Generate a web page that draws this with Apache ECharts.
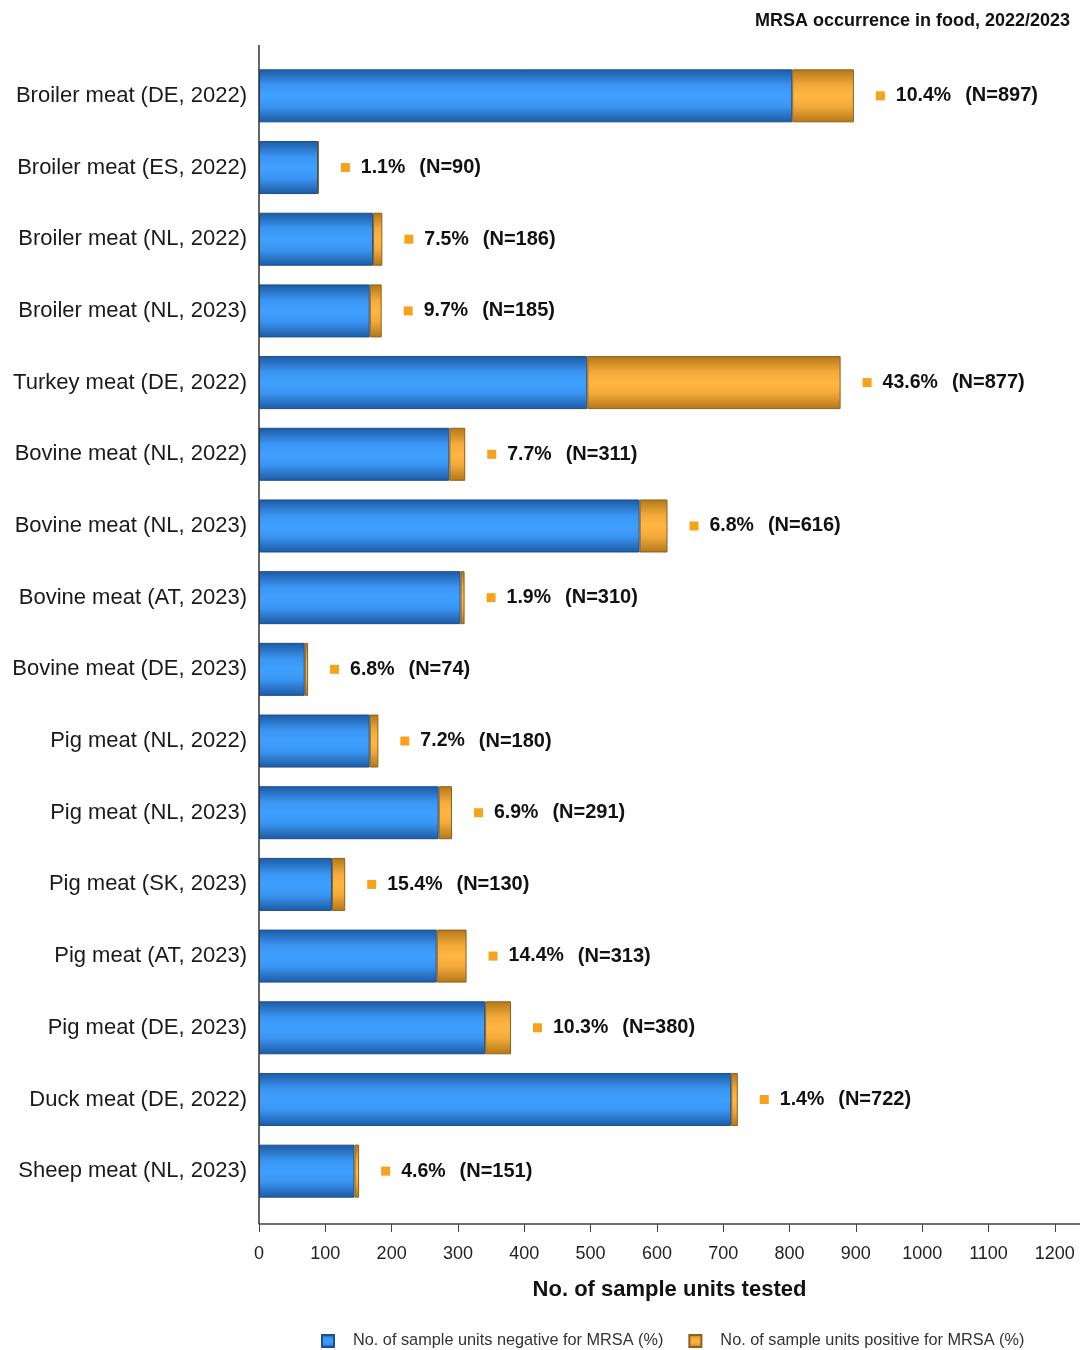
<!DOCTYPE html>
<html>
<head>
<meta charset="utf-8">
<script src="https://cdn.jsdelivr.net/npm/echarts@6/dist/echarts.min.js"></script>
<style>
html,body{margin:0;padding:0;background:#fff;}
#chart{width:1080px;height:1350px;}
</style>
</head>
<body>
<div id="chart"></div>
<script>
const categories = [
  'Broiler meat (DE, 2022)', 'Broiler meat (ES, 2022)', 'Broiler meat (NL, 2022)', 'Broiler meat (NL, 2023)',
  'Turkey meat (DE, 2022)', 'Bovine meat (NL, 2022)', 'Bovine meat (NL, 2023)', 'Bovine meat (AT, 2023)',
  'Bovine meat (DE, 2023)', 'Pig meat (NL, 2022)', 'Pig meat (NL, 2023)', 'Pig meat (SK, 2023)',
  'Pig meat (AT, 2023)', 'Pig meat (DE, 2023)', 'Duck meat (DE, 2022)', 'Sheep meat (NL, 2023)'
];
const totalN   = [897, 90, 186, 185, 877, 311, 616, 310, 74, 180, 291, 130, 313, 380, 722, 151];
const positive = [93, 1, 14, 18, 382, 24, 42, 6, 5, 13, 20, 20, 45, 39, 10, 7];
const negative = [804, 89, 172, 167, 495, 287, 574, 304, 69, 167, 271, 110, 268, 341, 712, 144];
const pctLabels = ['10.4%', '1.1%', '7.5%', '9.7%', '43.6%', '7.7%', '6.8%', '1.9%', '6.8%', '7.2%', '6.9%', '15.4%', '14.4%', '10.3%', '1.4%', '4.6%'];
const xTicks = [0, 100, 200, 300, 400, 500, 600, 700, 800, 900, 1000, 1100, 1200];

const FONT = 'Arial, "Liberation Sans", sans-serif';
const blueGrad = new echarts.graphic.LinearGradient(0, 0, 0, 1, [
  {offset: 0, color: '#1c5aa3'}, {offset: 0.3, color: '#3a95f2'},
  {offset: 0.5, color: '#40a0ff'}, {offset: 0.7, color: '#3a95f2'}, {offset: 1, color: '#1c5aa3'}
]);
const orangeGrad = new echarts.graphic.LinearGradient(0, 0, 0, 1, [
  {offset: 0, color: '#b37718'}, {offset: 0.3, color: '#f3aa3a'},
  {offset: 0.5, color: '#ffb642'}, {offset: 0.7, color: '#f3aa3a'}, {offset: 1, color: '#b37718'}
]);

const chart = echarts.init(document.getElementById('chart'));
chart.setOption({
  animation: false,
  backgroundColor: '#ffffff',
  textStyle: {fontFamily: FONT},
  title: {
    text: 'MRSA occurrence in food, 2022/2023',
    right: 5, top: 7,
    textStyle: {fontFamily: FONT, fontSize: 18, fontWeight: 'bold', color: '#111'}
  },
  legend: {
    left: 316, top: 1328,
    itemWidth: 12, itemHeight: 12, itemGap: 25,
    icon: 'rect',
    textStyle: {fontFamily: FONT, fontSize: 16.3, color: '#333', padding: [0, 0, 0, 14]},
    data: ['No. of sample units negative for MRSA (%)', 'No. of sample units positive for MRSA (%)']
  },
  grid: {left: 259, right: 0, top: 60, height: 1147, containLabel: false},
  xAxis: {
    type: 'value', min: 0, max: 1238, interval: 100,
    offset: 17,
    name: 'No. of sample units tested',
    nameLocation: 'middle', nameGap: 55,
    nameTextStyle: {fontFamily: FONT, fontSize: 22, fontWeight: 'bold', color: '#111'},
    axisLine: {show: true, lineStyle: {color: '#444', width: 1.5}},
    axisTick: {show: true, length: 8, lineStyle: {color: '#444', width: 1}},
    axisLabel: {
      fontFamily: FONT, fontSize: 18, color: '#222', margin: 21, showMaxLabel: false,
      formatter: v => (xTicks.indexOf(v) >= 0 ? String(v) : '')
    },
    splitLine: {show: false}
  },
  yAxis: {
    type: 'category', data: categories, inverse: true,
    axisLine: {show: false},
    axisTick: {show: false},
    axisLabel: {fontFamily: FONT, fontSize: 22, color: '#1a1a1a', margin: 12}
  },
  graphic: [{
    type: 'line', z: 10,
    shape: {x1: 259, y1: 45, x2: 259, y2: 1224},
    style: {stroke: '#333', lineWidth: 1.5}
  }],
  series: [
    {
      name: 'No. of sample units negative for MRSA (%)',
      type: 'bar', stack: 'total', barWidth: 53,
      itemStyle: {color: blueGrad, borderColor: '#1b4f8e', borderWidth: 1},
      data: negative
    },
    {
      name: 'No. of sample units positive for MRSA (%)',
      type: 'bar', stack: 'total', barWidth: 53,
      itemStyle: {color: orangeGrad, borderColor: '#8e611b', borderWidth: 1},
      label: {
        show: true, position: 'right', distance: 22,
        formatter: p => '{sq|}{p|' + pctLabels[p.dataIndex] + '}{n|(N=' + totalN[p.dataIndex] + ')}',
        rich: {
          sq: {width: 9, height: 9, backgroundColor: '#f7a21b'},
          p: {fontFamily: FONT, fontSize: 19.5, fontWeight: 'bold', color: '#111', padding: [0, 14, 0, 11]},
          n: {fontFamily: FONT, fontSize: 20, fontWeight: 'bold', color: '#111'}
        }
      },
      data: positive
    }
  ]
});
</script>
</body>
</html>
